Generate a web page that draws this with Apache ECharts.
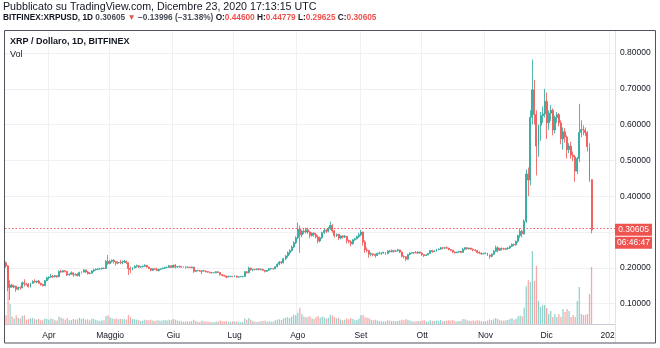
<!DOCTYPE html>
<html><head><meta charset="utf-8">
<script src="https://cdn.jsdelivr.net/npm/echarts@6/dist/echarts.min.js"></script>
<style>html,body{margin:0;padding:0;background:#fff}#c{width:660px;height:348px}</style>
</head><body><div id="c"></div><script>
const FONT = 'Liberation Sans, DejaVu Sans, sans-serif';
const monthNames = ['Gen','Feb','Mar','Apr','Maggio','Giu','Lug','Ago','Set','Ott','Nov','Dic'];
const startDate = '2020-03-11';
const axisDays = 299;
const headerLine1 = 'Pubblicato su TradingView.com, Dicembre 23, 2020 17:13:15 UTC';
const symbolText = 'BITFINEX:XRPUSD, 1D';
const lastText = '0.30605';
const changeText = '\u22120.13996 (\u221231.38%)';
const oText = '0.44600', hText = '0.44779', lText = '0.29625', cText = '0.30605';
const paneTitle = 'XRP / Dollaro, 1D, BITFINEX';
const volTitle = 'Vol';
const lastPrice = 0.30605;
const countdown = '06:46:47';

// [open, high, low, close]
const ohlcMar = [
[0.214,0.218,0.200,0.205],[0.205,0.207,0.135,0.145],[0.145,0.165,0.110,0.152],[0.152,0.155,0.144,0.146],
[0.146,0.153,0.143,0.149],[0.149,0.150,0.133,0.140],[0.140,0.147,0.137,0.145],[0.145,0.148,0.139,0.144],
[0.144,0.162,0.143,0.158],[0.158,0.168,0.148,0.155],[0.155,0.158,0.150,0.154],[0.154,0.157,0.145,0.147],
[0.147,0.158,0.145,0.157],[0.157,0.165,0.155,0.162],[0.162,0.168,0.158,0.160],[0.160,0.164,0.157,0.163],
[0.163,0.166,0.155,0.157],[0.157,0.158,0.150,0.153],[0.153,0.156,0.148,0.150],[0.150,0.166,0.149,0.164],
[0.164,0.175,0.162,0.172]];
const ohlcApr = [
[0.172,0.176,0.167,0.174],[0.174,0.183,0.172,0.177],[0.177,0.180,0.172,0.175],[0.175,0.180,0.173,0.178],
[0.178,0.179,0.172,0.175],[0.175,0.192,0.174,0.190],[0.190,0.195,0.186,0.188],[0.188,0.194,0.187,0.192],
[0.192,0.193,0.187,0.190],[0.190,0.191,0.177,0.180],[0.180,0.184,0.178,0.182],[0.182,0.190,0.180,0.186],
[0.186,0.187,0.175,0.181],[0.181,0.184,0.178,0.182],[0.182,0.185,0.176,0.178],[0.178,0.189,0.175,0.187],
[0.187,0.190,0.184,0.188],[0.188,0.196,0.187,0.194],[0.194,0.195,0.186,0.188],[0.188,0.191,0.181,0.184],
[0.184,0.188,0.182,0.185],[0.185,0.193,0.184,0.191],[0.191,0.197,0.188,0.194],[0.194,0.198,0.192,0.196],
[0.196,0.199,0.194,0.197],[0.197,0.200,0.195,0.197],[0.197,0.201,0.195,0.199],[0.199,0.201,0.196,0.198],
[0.198,0.222,0.197,0.218],[0.218,0.236,0.208,0.212]];
const ohlcMay = [
[0.212,0.222,0.210,0.218],[0.218,0.223,0.214,0.221],[0.221,0.224,0.212,0.217],[0.217,0.218,0.206,0.213],
[0.213,0.218,0.210,0.215],[0.215,0.222,0.210,0.214],[0.214,0.220,0.210,0.216],[0.216,0.222,0.213,0.218],
[0.218,0.220,0.211,0.214],[0.214,0.215,0.180,0.198],[0.198,0.203,0.185,0.195],[0.195,0.202,0.193,0.200],
[0.200,0.207,0.198,0.204],[0.204,0.209,0.200,0.206],[0.206,0.207,0.199,0.202],[0.202,0.205,0.200,0.203],
[0.203,0.207,0.201,0.204],[0.204,0.210,0.202,0.207],[0.207,0.208,0.200,0.202],[0.202,0.203,0.196,0.198],
[0.198,0.199,0.190,0.193],[0.193,0.198,0.191,0.197],[0.197,0.199,0.194,0.196],[0.196,0.200,0.191,0.192],
[0.192,0.197,0.190,0.196],[0.196,0.198,0.194,0.197],[0.197,0.201,0.196,0.199],[0.199,0.203,0.197,0.201],
[0.201,0.204,0.199,0.201],[0.201,0.208,0.200,0.206],[0.206,0.207,0.200,0.201]];
const ohlcJun = [
[0.201,0.209,0.200,0.207],[0.207,0.211,0.198,0.202],[0.202,0.205,0.200,0.203],[0.203,0.206,0.200,0.204],
[0.204,0.205,0.200,0.202],[0.202,0.204,0.200,0.202],[0.202,0.203,0.198,0.202],[0.202,0.204,0.200,0.201],
[0.201,0.203,0.199,0.200],[0.200,0.204,0.199,0.202],[0.202,0.203,0.186,0.190],[0.190,0.194,0.188,0.193],
[0.193,0.194,0.190,0.192],[0.192,0.193,0.189,0.190],[0.190,0.193,0.182,0.192],[0.192,0.194,0.189,0.191],
[0.191,0.192,0.187,0.189],[0.189,0.190,0.186,0.188],[0.188,0.189,0.185,0.186],[0.186,0.188,0.184,0.186],
[0.186,0.188,0.185,0.186],[0.186,0.191,0.185,0.189],[0.189,0.190,0.186,0.187],[0.187,0.188,0.178,0.181],
[0.181,0.182,0.176,0.179],[0.179,0.180,0.175,0.177],[0.177,0.178,0.170,0.174],[0.174,0.178,0.173,0.176],
[0.176,0.178,0.174,0.176],[0.176,0.177,0.174,0.175]];
const ohlcJul = [
[0.175,0.179,0.174,0.177],[0.177,0.178,0.172,0.174],[0.174,0.176,0.173,0.175],[0.175,0.177,0.174,0.176],
[0.176,0.177,0.173,0.176],[0.176,0.191,0.175,0.189],[0.189,0.190,0.184,0.186],[0.186,0.203,0.185,0.199],
[0.199,0.201,0.192,0.195],[0.195,0.197,0.190,0.196],[0.196,0.197,0.193,0.195],[0.195,0.198,0.193,0.197],
[0.197,0.199,0.193,0.195],[0.195,0.198,0.193,0.196],[0.196,0.197,0.191,0.193],[0.193,0.194,0.187,0.190],
[0.190,0.194,0.189,0.193],[0.193,0.199,0.192,0.197],[0.197,0.200,0.195,0.198],[0.198,0.199,0.195,0.197],
[0.197,0.205,0.196,0.203],[0.203,0.212,0.201,0.210],[0.210,0.219,0.207,0.216],[0.216,0.219,0.210,0.214],
[0.214,0.228,0.212,0.225],[0.225,0.236,0.222,0.233],[0.233,0.246,0.228,0.242],[0.242,0.252,0.236,0.248],
[0.248,0.262,0.245,0.258],[0.258,0.274,0.255,0.270],[0.270,0.288,0.266,0.284]];
const ohlcAug = [
[0.284,0.326,0.280,0.308],[0.308,0.318,0.242,0.292],[0.292,0.306,0.285,0.302],[0.302,0.308,0.294,0.300],
[0.300,0.312,0.296,0.306],[0.306,0.312,0.294,0.300],[0.300,0.303,0.282,0.290],[0.290,0.299,0.287,0.297],
[0.297,0.299,0.287,0.293],[0.293,0.298,0.282,0.286],[0.286,0.291,0.268,0.275],[0.275,0.287,0.271,0.284],
[0.284,0.301,0.281,0.298],[0.298,0.310,0.295,0.304],[0.304,0.308,0.297,0.302],[0.302,0.314,0.299,0.310],
[0.310,0.329,0.306,0.318],[0.318,0.322,0.298,0.303],[0.303,0.306,0.284,0.290],[0.290,0.296,0.286,0.293],
[0.293,0.295,0.278,0.283],[0.283,0.291,0.279,0.289],[0.289,0.291,0.282,0.286],[0.286,0.292,0.283,0.288],
[0.288,0.289,0.268,0.276],[0.276,0.279,0.268,0.273],[0.273,0.277,0.260,0.267],[0.267,0.280,0.265,0.278],
[0.278,0.284,0.275,0.281],[0.281,0.290,0.279,0.287],[0.287,0.298,0.283,0.292]];
const ohlcSep = [
[0.292,0.306,0.288,0.300],[0.300,0.301,0.262,0.272],[0.272,0.277,0.242,0.250],[0.250,0.257,0.243,0.248],
[0.248,0.250,0.228,0.238],[0.238,0.243,0.232,0.239],[0.239,0.241,0.232,0.237],[0.237,0.240,0.228,0.234],
[0.234,0.242,0.233,0.240],[0.240,0.245,0.237,0.241],[0.241,0.243,0.236,0.241],[0.241,0.245,0.239,0.243],
[0.243,0.244,0.236,0.240],[0.240,0.249,0.238,0.247],[0.247,0.250,0.243,0.245],[0.245,0.251,0.243,0.248],
[0.248,0.250,0.242,0.246],[0.246,0.250,0.244,0.247],[0.247,0.253,0.246,0.250],[0.250,0.251,0.241,0.244],
[0.244,0.246,0.229,0.232],[0.232,0.235,0.226,0.231],[0.231,0.232,0.219,0.224],[0.224,0.239,0.223,0.237],
[0.237,0.243,0.235,0.241],[0.241,0.244,0.239,0.243],[0.243,0.244,0.238,0.242],[0.242,0.247,0.240,0.241],
[0.241,0.246,0.239,0.244],[0.244,0.245,0.239,0.241]];
const ohlcOct = [
[0.241,0.244,0.233,0.237],[0.237,0.238,0.230,0.234],[0.234,0.238,0.233,0.236],[0.236,0.241,0.235,0.240],
[0.240,0.250,0.239,0.248],[0.248,0.250,0.242,0.245],[0.245,0.249,0.244,0.247],[0.247,0.253,0.245,0.251],
[0.251,0.254,0.249,0.252],[0.252,0.258,0.251,0.256],[0.256,0.257,0.252,0.255],[0.255,0.258,0.252,0.256],
[0.256,0.260,0.253,0.255],[0.255,0.256,0.249,0.251],[0.251,0.252,0.246,0.249],[0.249,0.250,0.241,0.244],
[0.244,0.246,0.240,0.242],[0.242,0.245,0.241,0.244],[0.244,0.247,0.242,0.246],[0.246,0.247,0.241,0.243],
[0.243,0.256,0.242,0.252],[0.252,0.258,0.249,0.256],[0.256,0.258,0.251,0.253],[0.253,0.256,0.251,0.255],
[0.255,0.256,0.250,0.252],[0.252,0.254,0.246,0.250],[0.250,0.252,0.246,0.248],[0.248,0.250,0.240,0.243],
[0.243,0.246,0.238,0.241],[0.241,0.243,0.236,0.239],[0.239,0.242,0.237,0.240]];
const ohlcNov = [
[0.240,0.243,0.238,0.241],[0.241,0.242,0.233,0.235],[0.235,0.237,0.225,0.232],[0.232,0.240,0.229,0.238],
[0.238,0.250,0.236,0.246],[0.246,0.262,0.244,0.256],[0.256,0.260,0.243,0.249],[0.249,0.256,0.247,0.254],
[0.254,0.257,0.248,0.253],[0.253,0.256,0.250,0.252],[0.252,0.256,0.250,0.254],[0.254,0.258,0.250,0.255],
[0.255,0.262,0.253,0.260],[0.260,0.268,0.258,0.265],[0.265,0.268,0.260,0.264],[0.264,0.276,0.262,0.274],
[0.274,0.292,0.270,0.290],[0.290,0.310,0.283,0.302],[0.302,0.306,0.285,0.295],[0.295,0.335,0.293,0.330],
[0.330,0.475,0.325,0.462],[0.462,0.480,0.400,0.445],[0.445,0.640,0.430,0.620],[0.620,0.782,0.600,0.697],
[0.697,0.725,0.600,0.628],[0.628,0.640,0.458,0.540],[0.540,0.600,0.510,0.598],[0.598,0.635,0.555,0.625],
[0.625,0.650,0.605,0.630],[0.630,0.700,0.620,0.665]];
const ohlcDec = [
[0.665,0.690,0.560,0.605],[0.605,0.640,0.585,0.632],[0.632,0.655,0.610,0.640],[0.640,0.645,0.570,0.585],
[0.585,0.625,0.575,0.620],[0.620,0.635,0.605,0.628],[0.628,0.632,0.595,0.605],[0.605,0.612,0.545,0.560],
[0.560,0.592,0.530,0.580],[0.580,0.590,0.550,0.565],[0.565,0.570,0.505,0.530],[0.530,0.548,0.520,0.540],
[0.540,0.552,0.505,0.515],[0.515,0.525,0.498,0.510],[0.510,0.515,0.440,0.470],[0.470,0.510,0.462,0.505],
[0.505,0.658,0.495,0.578],[0.578,0.612,0.565,0.586],[0.586,0.598,0.570,0.585],[0.585,0.592,0.568,0.578],
[0.578,0.582,0.525,0.538],[0.538,0.548,0.440,0.446],[0.446,0.44779,0.29625,0.30605]];

const volMar = [70,470,160,60,45,70,50,45,65,70,35,40,45,50,40,35,40,30,30,45,40];
const volApr = [35,45,40,30,28,60,50,45,35,48,30,32,40,35,38,50,40,45,35,38,30,42,40,35,28,25,30,30,65,70];
const volMay = [55,45,40,45,38,42,40,38,35,72,55,40,38,35,30,25,28,35,32,30,35,28,25,30,28,26,30,32,28,35,30];
const volJun = [40,35,28,25,22,18,20,22,20,25,35,25,18,16,28,22,20,18,18,15,14,20,18,28,22,20,24,16,18,20];
const volJul = [20,22,16,15,16,45,35,48,35,25,18,16,20,22,24,28,20,22,18,20,30,35,38,32,45,50,55,48,60,75,70];
const volAug = [90,130,80,60,55,58,62,45,40,55,65,50,60,55,45,50,72,68,55,45,50,35,30,35,45,38,48,40,30,32,45];
const volSep = [70,72,55,50,48,35,30,35,28,25,22,20,22,30,28,25,24,22,25,28,35,30,38,35,28,22,20,22,25,22];
const volOct = [28,30,20,18,30,25,24,28,25,32,22,24,26,30,28,32,22,20,25,26,40,38,30,26,24,28,26,30,28,24,20];
const volNov = [22,28,35,30,38,48,40,30,28,26,30,32,40,48,35,42,60,68,62,130,300,350,336,584,344,464,184,136,152,152];
const volDec = [128,80,104,56,80,56,80,56,120,96,120,104,56,72,56,184,296,80,72,72,80,240,456];

const UP = '#26a69a', DOWN = '#ef5350';
const dates = [];
{ let t = Date.parse(startDate + 'T00:00:00Z');
  for (let i = 0; i < axisDays; i++) { dates.push(new Date(t).toISOString().slice(0, 10)); t += 86400000; } }
const ohlc = [].concat(ohlcMar, ohlcApr, ohlcMay, ohlcJun, ohlcJul, ohlcAug, ohlcSep, ohlcOct, ohlcNov, ohlcDec);
const vols = [].concat(volMar, volApr, volMay, volJun, volJul, volAug, volSep, volOct, volNov, volDec);
const candleData = ohlc.map(r => [r[0], r[3], r[2], r[1]]);
const volData = vols.map((v, i) => ({ value: v, itemStyle: { color: ohlc[i][3] >= ohlc[i][0] ? 'rgba(38,166,154,0.5)' : 'rgba(239,83,80,0.5)' } }));
const isMonthStart = (i, v) => String(v).slice(8, 10) === '01';

// header text sizing (fit to the widths seen in the reference)
const mctx = document.createElement('canvas').getContext('2d');
function tw(text, weight, size, fam) { mctx.font = weight + ' ' + size + 'px ' + fam; return mctx.measureText(text).width; }
const narrowOK = tw('abcdefghijklmn', 'normal', 10, '"Liberation Sans Narrow", monospace') !== tw('abcdefghijklmn', 'normal', 10, 'monospace');
const FONT2 = narrowOK ? '"Liberation Sans Narrow", ' + FONT : FONT;
const line2Segs = [[symbolText, 'bold'], [' ' + lastText + ' ', 'normal'], ['\u25BC', 'normal'], [' ' + changeText + ' ', 'normal'],
  ['O:', 'bold'], [oText + ' ', 'normal'], ['H:', 'bold'], [hText + ' ', 'normal'], ['L:', 'bold'], [lText + ' ', 'normal'], ['C:', 'bold'], [cText, 'normal']];
const l2w = line2Segs.reduce((s, g) => s + tw(g[0], g[1], 10, FONT2), 0);
const size2 = Math.max(7.5, Math.min(11, 10 * 374 / l2w));
const size1 = Math.max(8, Math.min(12, 10 * 314 / tw(headerLine1, 'normal', 10, FONT)));

const chart = echarts.init(document.getElementById('c'), null, { renderer: 'canvas' });
const GRID = { left: 5, right: 45, top: 30, bottom: 24 };
chart.setOption({
  animation: false,
  backgroundColor: '#ffffff',
  textStyle: { fontFamily: FONT },
  title: [
    { text: headerLine1, left: 3, top: 2, padding: 0,
      textStyle: { fontSize: size1, fontWeight: 'normal', color: '#131722', fontFamily: FONT } },
    { text: '{b|' + symbolText + '}{g| ' + lastText + ' }{r|\u25BC}{g| ' + changeText + ' }{b|O:}{r|' + oText + ' }{b|H:}{r|' + hText + ' }{b|L:}{r|' + lText + ' }{b|C:}{r|' + cText + '}',
      left: 3, top: 14, padding: 0,
      textStyle: { fontSize: size2, fontFamily: FONT2, rich: {
        b: { fontSize: size2, fontWeight: 'bold', color: '#131722', fontFamily: FONT2 },
        g: { fontSize: size2, color: '#4a4e59', fontFamily: FONT2 },
        r: { fontSize: size2, color: DOWN, fontFamily: FONT2 } } } },
    { text: paneTitle, left: 10, top: 37, padding: 0,
      textStyle: { fontSize: 9, fontWeight: 'bold', color: '#131722', fontFamily: FONT } },
    { text: volTitle, left: 10, top: 50, padding: 0,
      textStyle: { fontSize: 9, fontWeight: 'normal', color: '#131722', fontFamily: FONT } }
  ],
  grid: GRID,
  xAxis: {
    type: 'category', data: dates, boundaryGap: true,
    axisLine: { lineStyle: { color: '#c9ccd4' } },
    axisTick: { show: false },
    axisLabel: { interval: isMonthStart, margin: 7, fontSize: 8.5, color: '#131722', fontFamily: FONT,
      formatter: v => { const m = +v.slice(5, 7); return m === 1 ? v.slice(0, 4) : monthNames[m - 1]; } },
    splitLine: { show: true, interval: isMonthStart, lineStyle: { color: '#eef0f4' } }
  },
  yAxis: [
    { type: 'value', position: 'right', min: 0.043, max: 0.8642, splitNumber: 8,
      axisLine: { show: false }, axisTick: { show: false },
      splitLine: { lineStyle: { color: '#eef0f4' } },
      axisLabel: { margin: 5, fontSize: 8.5, color: '#131722', fontFamily: FONT, showMinLabel: false, showMaxLabel: false,
        formatter: v => Math.abs(v * 10 - Math.round(v * 10)) < 1e-6 ? v.toFixed(5) : '' } },
    { type: 'value', min: 0, max: 2352, show: false }
  ],
  series: [
    { type: 'bar', name: 'Vol', xAxisIndex: 0, yAxisIndex: 1, data: volData, barWidth: '62%', z: 1, silent: true },
    { type: 'candlestick', name: 'XRPUSD', xAxisIndex: 0, yAxisIndex: 0, data: candleData, barWidth: '72%', z: 3,
      itemStyle: { color: UP, color0: DOWN, borderColor: UP, borderColor0: DOWN, borderColorDoji: UP, borderWidth: 0.8 },
      markLine: { silent: true, symbol: 'none', label: { show: false }, emphasis: { disabled: true },
        lineStyle: { color: DOWN, opacity: 0.9, type: [1.5, 2], width: 1 }, data: [{ yAxis: lastPrice }] } }
  ],
  graphic: [
    { type: 'line', id: 'sep', z: 40, silent: true, shape: { x1: 615.5, y1: 30, x2: 615.5, y2: 343 }, style: { stroke: '#e0e3eb', lineWidth: 1 } },
    { type: 'rect', id: 'cover', z: 50, silent: true, shape: { x: 616, y: 325, width: 39, height: 17 }, style: { fill: '#ffffff' } },
    { type: 'rect', id: 'frame', z: 60, silent: true, shape: { x: 4.5, y: 30.5, width: 651, height: 312.5 }, style: { fill: 'none', stroke: '#50535e', lineWidth: 1 } }
  ]
});
const yp = chart.convertToPixel({ yAxisIndex: 0 }, lastPrice);
chart.setOption({ graphic: [
  { type: 'rect', id: 'pbox', z: 70, silent: true, shape: { x: 615, y: yp - 6, width: 37, height: 12 }, style: { fill: DOWN } },
  { type: 'text', id: 'ptxt', z: 71, silent: true, x: 633.5, y: yp, style: { text: lastText, fill: '#ffffff', font: '8.5px ' + FONT, textAlign: 'center', textVerticalAlign: 'middle' } },
  { type: 'rect', id: 'cbox', z: 70, silent: true, shape: { x: 615, y: yp + 7, width: 37, height: 12 }, style: { fill: DOWN } },
  { type: 'text', id: 'ctxt', z: 71, silent: true, x: 633.5, y: yp + 13, style: { text: countdown, fill: '#ffffff', font: '8.5px ' + FONT, textAlign: 'center', textVerticalAlign: 'middle' } }
] });
</script></body></html>
